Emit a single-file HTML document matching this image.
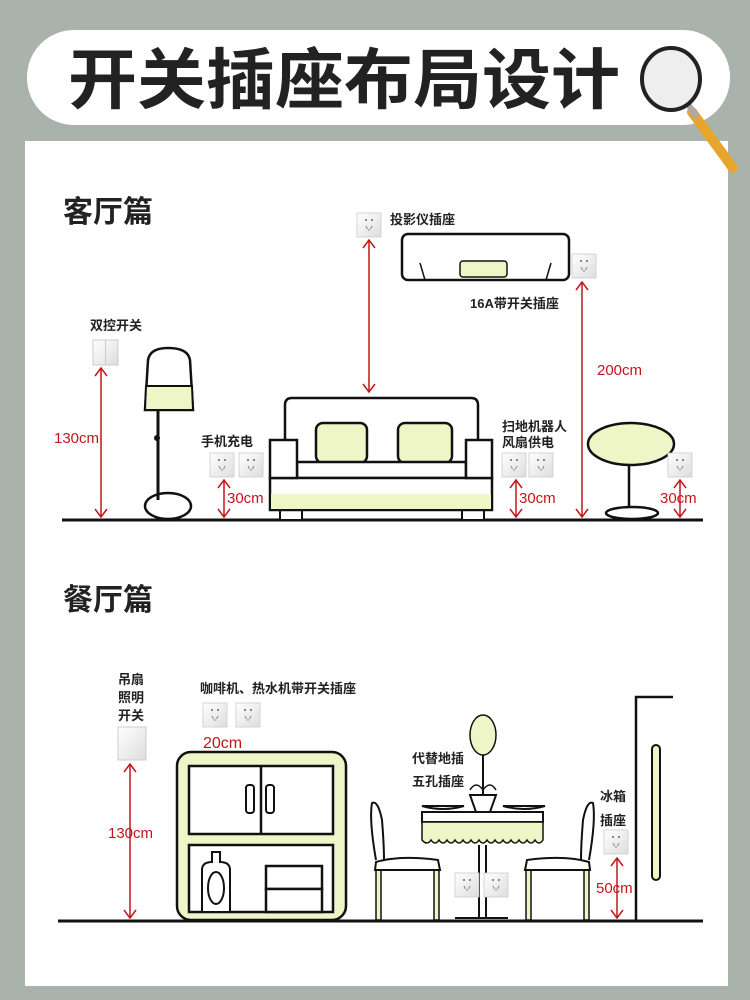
<!DOCTYPE html>
<html><head><meta charset="utf-8"><style>
body{margin:0;width:750px;height:1000px;overflow:hidden;background:#a9b3ab}
svg{display:block}
text{font-family:"Liberation Sans","Noto Sans CJK SC",sans-serif}
.b{font-weight:bold;fill:#222}
.r{fill:#c0161c}
.ar{stroke:#c0161c;stroke-width:1.5;fill:none}
</style></head><body>
<svg width="750" height="1000" viewBox="0 0 750 1000">
<defs>
<path id="up" d="M-6,8 L0,0 L6,8" fill="none" stroke="#c0161c" stroke-width="1.5"/>
<path id="dn" d="M-6,-8 L0,0 L6,-8" fill="none" stroke="#c0161c" stroke-width="1.5"/>
<linearGradient id="sk" x1="0" y1="0" x2="1" y2="1"><stop offset="0" stop-color="#fff"/><stop offset="1" stop-color="#ddd"/></linearGradient>
<g id="s"><rect width="24" height="24" fill="url(#sk)" stroke="#ccc" stroke-width="0.8"/><circle cx="9" cy="7" r="1" fill="#666"/><circle cx="15" cy="7" r="1" fill="#666"/><path d="M9,13 l1.5,3 M15,13 l-1.5,3" stroke="#888" stroke-width="1"/><path d="M11,17 l2,0" stroke="#888"/></g>
</defs>
<rect x="27" y="30" width="703" height="95" rx="47" fill="#fff"/>
<rect x="25" y="141" width="703" height="845" fill="#fff"/>
<text x="68" y="103" class="b" font-size="66" textLength="552" lengthAdjust="spacingAndGlyphs">开关插座布局设计</text>
<line x1="692" y1="112" x2="733" y2="168" stroke="#e8a52c" stroke-width="10" stroke-linecap="round"/>
<line x1="688" y1="104" x2="697" y2="118" stroke="#aaa" stroke-width="6"/>
<ellipse cx="671" cy="79" rx="29" ry="31" fill="#eee" stroke="#222" stroke-width="4"/>

<text x="63" y="222" class="b" font-size="30">客厅篇</text>
<line x1="62" y1="520" x2="703" y2="520" stroke="#111" stroke-width="3"/>
<text x="90" y="330" class="b" font-size="13">双控开关</text>
<rect x="93" y="340" width="25" height="25" fill="url(#sk)" stroke="#ccc"/><line x1="105.5" y1="340" x2="105.5" y2="365" stroke="#ccc"/>
<line x1="101" y1="368" x2="101" y2="517" class="ar"/><use href="#up" x="101" y="368"/><use href="#dn" x="101" y="517"/>
<text x="54" y="443" class="r" font-size="15">130cm</text>
<path d="M145,410 L148,360 Q150,348 168,348 Q188,348 190,360 L193,410 Z" fill="#fff" stroke="#111" stroke-width="2.5"/>
<path d="M146,386 L192,386 L193,410 L145,410 Z" fill="#eef5c7" stroke="#111" stroke-width="2"/>
<line x1="158" y1="410" x2="158" y2="500" stroke="#111" stroke-width="3"/>
<circle cx="157" cy="438" r="3" fill="#111"/>
<ellipse cx="168" cy="506" rx="23" ry="13" fill="none" stroke="#111" stroke-width="2.5"/>
<text x="201" y="446" class="b" font-size="13">手机充电</text>
<use href="#s" x="210" y="453"/><use href="#s" x="239" y="453"/>
<line x1="224" y1="480" x2="224" y2="517" class="ar"/><use href="#up" x="224" y="480"/><use href="#dn" x="224" y="517"/>
<text x="227" y="503" class="r" font-size="15">30cm</text>
<path d="M285,445 L285,405 Q285,398 292,398 L471,398 Q478,398 478,405 L478,445" fill="#fff" stroke="#111" stroke-width="2.5"/>
<rect x="316" y="423" width="51" height="40" rx="7" fill="#eef5c7" stroke="#111" stroke-width="2.5"/>
<rect x="398" y="423" width="54" height="40" rx="7" fill="#eef5c7" stroke="#111" stroke-width="2.5"/>
<rect x="297" y="462" width="169" height="16" fill="#fff" stroke="#111" stroke-width="2.5"/>
<rect x="280" y="508" width="22" height="12" fill="#fff" stroke="#111" stroke-width="2"/><rect x="462" y="508" width="22" height="12" fill="#fff" stroke="#111" stroke-width="2"/>
<rect x="270" y="478" width="222" height="32" fill="#fff" stroke="#111" stroke-width="2.5"/>
<rect x="271" y="494" width="220" height="15" fill="#eef5c7"/>
<rect x="270" y="440" width="27" height="38" fill="#fff" stroke="#111" stroke-width="2.5"/>
<rect x="466" y="440" width="26" height="38" fill="#fff" stroke="#111" stroke-width="2.5"/>
<use href="#s" x="357" y="213"/>
<text x="390" y="224" class="b" font-size="13">投影仪插座</text>
<line x1="369" y1="240" x2="369" y2="392" class="ar"/><use href="#up" x="369" y="240"/><use href="#dn" x="369" y="392"/>
<rect x="402" y="234" width="167" height="46" rx="6" fill="#fff" stroke="#111" stroke-width="2.5"/>
<line x1="420" y1="263" x2="425" y2="280" stroke="#111" stroke-width="1.5"/><line x1="551" y1="263" x2="546" y2="280" stroke="#111" stroke-width="1.5"/>
<rect x="460" y="261" width="47" height="16" rx="3" fill="#eef5c7" stroke="#111" stroke-width="1.5"/>
<use href="#s" x="572" y="254"/>
<text x="470" y="308" class="b" font-size="13">16A带开关插座</text>
<line x1="582" y1="282" x2="582" y2="517" class="ar"/><use href="#up" x="582" y="282"/><use href="#dn" x="582" y="517"/>
<text x="597" y="375" class="r" font-size="15">200cm</text>
<text x="502" y="431" class="b" font-size="13">扫地机器人</text>
<text x="502" y="447" class="b" font-size="13">风扇供电</text>
<use href="#s" x="502" y="453"/><use href="#s" x="529" y="453"/>
<line x1="516" y1="480" x2="516" y2="517" class="ar"/><use href="#up" x="516" y="480"/><use href="#dn" x="516" y="517"/>
<text x="519" y="503" class="r" font-size="15">30cm</text>
<line x1="629" y1="462" x2="629" y2="510" stroke="#111" stroke-width="2.5"/>
<ellipse cx="631" cy="444" rx="43" ry="21" fill="#eef5c7" stroke="#111" stroke-width="2.5"/>
<ellipse cx="632" cy="513" rx="26" ry="6" fill="#fff" stroke="#111" stroke-width="2.5"/>
<use href="#s" x="668" y="453"/>
<line x1="680" y1="480" x2="680" y2="517" class="ar"/><use href="#up" x="680" y="480"/><use href="#dn" x="680" y="517"/>
<text x="660" y="503" class="r" font-size="15">30cm</text>

<text x="63" y="610" class="b" font-size="30">餐厅篇</text>
<line x1="58" y1="921" x2="703" y2="921" stroke="#111" stroke-width="3"/>
<text x="118" y="684" class="b" font-size="13">吊扇</text>
<text x="118" y="702" class="b" font-size="13">照明</text>
<text x="118" y="720" class="b" font-size="13">开关</text>
<rect x="118" y="727" width="28" height="33" fill="url(#sk)" stroke="#ccc"/>
<line x1="130" y1="764" x2="130" y2="918" class="ar"/><use href="#up" x="130" y="764"/><use href="#dn" x="130" y="918"/>
<text x="108" y="838" class="r" font-size="15">130cm</text>
<text x="200" y="693" class="b" font-size="13">咖啡机、热水机带开关插座</text>
<use href="#s" x="203" y="703"/><use href="#s" x="236" y="703"/>
<text x="203" y="748" class="r" font-size="16">20cm</text>
<rect x="177" y="752" width="169" height="168" rx="14" fill="#eef5c7" stroke="#111" stroke-width="2.5"/>
<rect x="189" y="766" width="144" height="68" fill="#fff" stroke="#111" stroke-width="2.5"/>
<line x1="261" y1="766" x2="261" y2="834" stroke="#111" stroke-width="2.5"/>
<rect x="246" y="785" width="8" height="28" rx="3" fill="#fff" stroke="#111" stroke-width="2"/>
<rect x="266" y="785" width="8" height="28" rx="3" fill="#fff" stroke="#111" stroke-width="2"/>
<rect x="189" y="845" width="144" height="67" fill="#fff" stroke="#111" stroke-width="2.5"/>
<path d="M202,912 L202,870 Q202,862 212,862 L212,852 L220,852 L220,862 Q230,862 230,870 L230,912 Z" fill="#fff" stroke="#111" stroke-width="2"/>
<ellipse cx="216" cy="888" rx="8" ry="16" fill="#fff" stroke="#111" stroke-width="2"/>
<rect x="266" y="866" width="56" height="23" fill="#fff" stroke="#111" stroke-width="2.5"/>
<rect x="266" y="889" width="56" height="23" fill="#fff" stroke="#111" stroke-width="2.5"/>
<!-- chairs -->
<rect x="376" y="870" width="5" height="50" fill="#eef5c7" stroke="#111" stroke-width="1.5"/>
<rect x="434" y="870" width="5" height="50" fill="#eef5c7" stroke="#111" stroke-width="1.5"/>
<path d="M376,860 Q369,820 372,803 Q378,800 382,820 Q384,845 384,860" fill="#fff" stroke="#111" stroke-width="2"/>
<path d="M376,862 Q400,855 438,860 L440,870 L375,870 Z" fill="#fff" stroke="#111" stroke-width="2"/>
<rect x="526" y="870" width="5" height="50" fill="#eef5c7" stroke="#111" stroke-width="1.5"/>
<rect x="584" y="870" width="5" height="50" fill="#eef5c7" stroke="#111" stroke-width="1.5"/>
<path d="M589,860 Q596,820 593,803 Q587,800 583,820 Q581,845 581,860" fill="#fff" stroke="#111" stroke-width="2"/>
<path d="M589,862 Q565,855 527,860 L525,870 L590,870 Z" fill="#fff" stroke="#111" stroke-width="2"/>
<!-- table -->
<line x1="479" y1="845" x2="479" y2="918" stroke="#111" stroke-width="2"/><line x1="486" y1="845" x2="486" y2="918" stroke="#111" stroke-width="2"/>
<line x1="455" y1="918" x2="508" y2="918" stroke="#111" stroke-width="2"/>
<rect x="422" y="812" width="121" height="10" fill="#fff" stroke="#111" stroke-width="2"/>
<path d="M422,822 L543,822 L543,840 q-4,6 -8,0 q-4,6 -8,0 q-4,6 -8,0 q-4,6 -8,0 q-4,6 -8,0 q-4,6 -8,0 q-4,6 -8,0 q-4,6 -8,0 q-4,6 -8,0 q-4,6 -8,0 q-4,6 -8,0 q-4,6 -8,0 q-4,6 -8,0 q-4,6 -8,0 q-4,6 -9,0 Z" fill="#eef5c7" stroke="#111" stroke-width="1.5"/>
<path d="M422,806 Q443,812 464,806 Z" fill="#fff" stroke="#111" stroke-width="2"/>
<path d="M503,806 Q524,812 545,806 Z" fill="#fff" stroke="#111" stroke-width="2"/>
<path d="M470,795 L496,795 L490,812 L476,812 Z" fill="#fff" stroke="#111" stroke-width="2"/>
<line x1="483" y1="755" x2="483" y2="795" stroke="#111" stroke-width="2"/>
<path d="M470,790 Q476,780 483,790 Q490,780 496,790" fill="none" stroke="#111" stroke-width="1.5"/>
<ellipse cx="483" cy="735" rx="13" ry="20" fill="#eef5c7" stroke="#111" stroke-width="1.5"/>
<text x="412" y="763" class="b" font-size="13">代替地插</text>
<text x="412" y="786" class="b" font-size="13">五孔插座</text>
<use href="#s" x="455" y="873"/><use href="#s" x="484" y="873"/>
<text x="600" y="801" class="b" font-size="13">冰箱</text>
<text x="600" y="825" class="b" font-size="13">插座</text>
<use href="#s" x="604" y="830"/>
<line x1="617" y1="858" x2="617" y2="918" class="ar"/><use href="#up" x="617" y="858"/><use href="#dn" x="617" y="918"/>
<text x="596" y="893" class="r" font-size="15">50cm</text>
<path d="M673,697 L636,697 L636,921" fill="none" stroke="#111" stroke-width="2.5"/>
<rect x="652" y="745" width="8" height="135" rx="4" fill="#eef5c7" stroke="#111" stroke-width="2"/>
</svg>
</body></html>
